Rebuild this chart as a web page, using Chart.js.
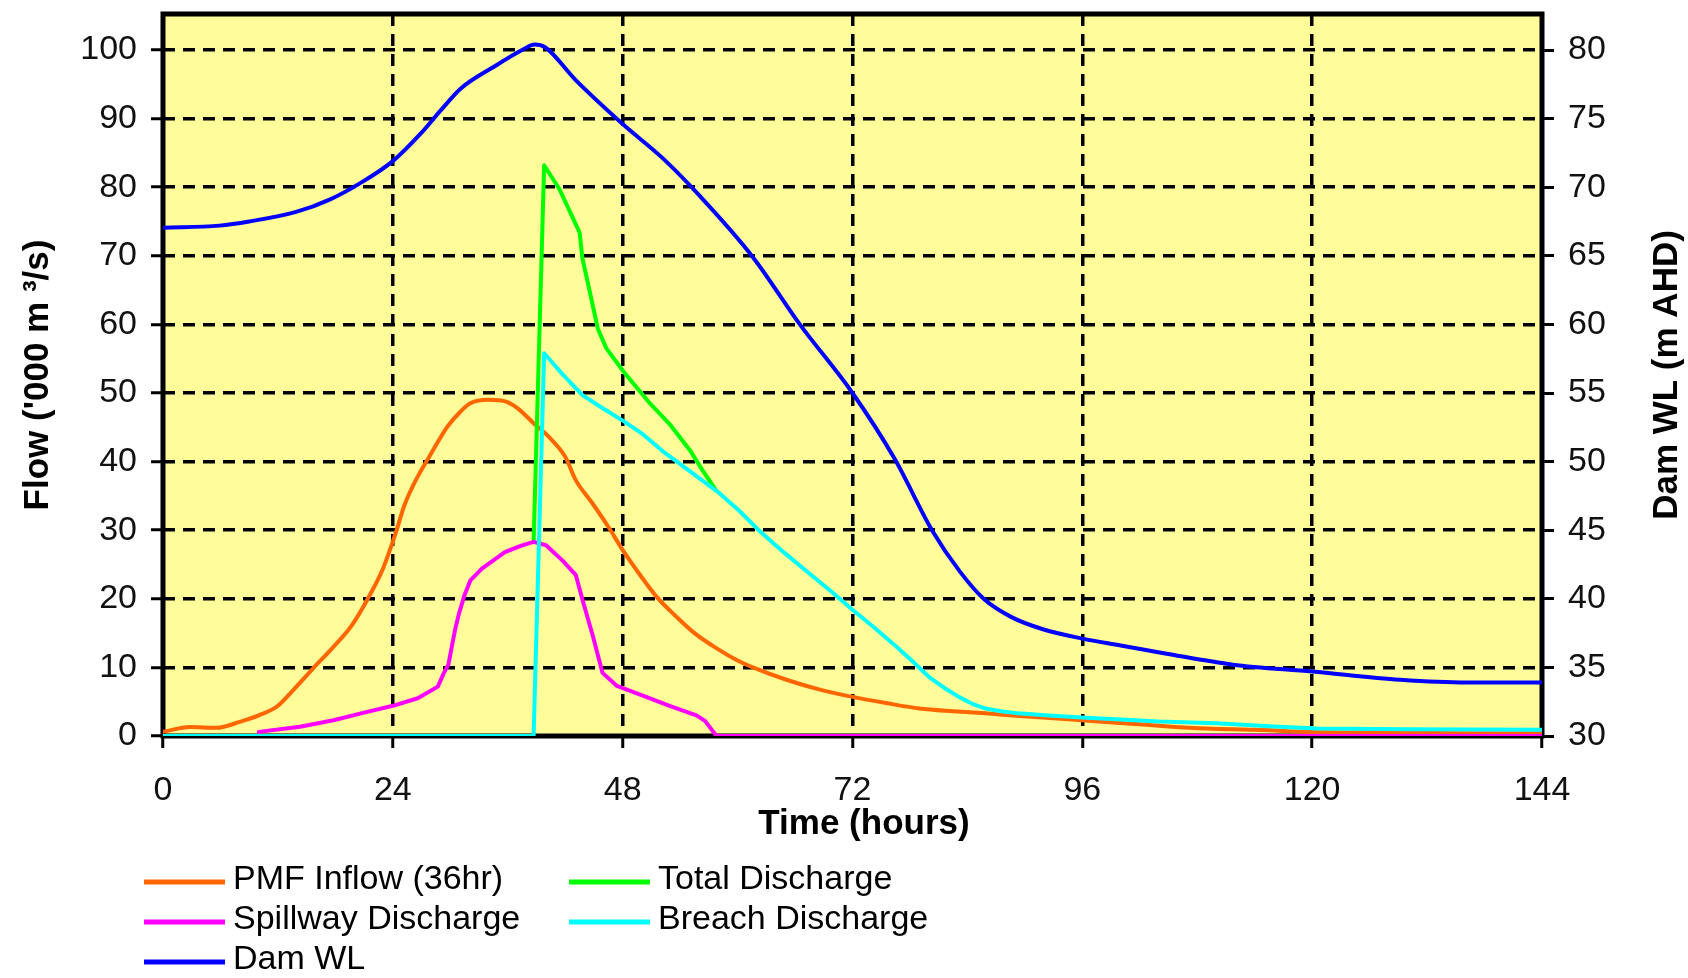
<!DOCTYPE html>
<html>
<head>
<meta charset="utf-8">
<title>Dam break hydrographs</title>
<script src="https://cdn.jsdelivr.net/npm/chart.js@4.4.1/dist/chart.umd.min.js"></script>
<style>
  html, body { margin: 0; padding: 0; background: #fff; }
  canvas { display: block; }
</style>
</head>
<body>
<canvas id="myChart" width="1688" height="978"></canvas>
<script>
// hours / values
const pmfHours = [0, 2.8, 5.6, 8.1, 10, 11.9, 13.6, 15.7, 17.8, 19.6, 21.3, 23, 24.3, 25.2, 26.4, 27.8, 29.7, 31, 32.1, 34, 35.9, 37, 38.7, 40.3, 42, 43.1, 44.8, 46.5, 48.1, 49.8, 51.6, 53.6, 55.5, 57.9, 60, 61.6, 65.1, 68.5, 72, 75.5, 79, 82.5, 85.9, 89.5, 93, 97, 101, 105, 109, 114, 120, 128, 136, 144];
const pmfFlow = [0.6, 1.3, 1.2, 2.1, 3.0, 4.3, 6.7, 9.9, 13.0, 15.9, 19.8, 24.5, 29.6, 33.6, 37.3, 40.7, 45.1, 47.2, 48.5, 49.0, 48.7, 47.8, 45.6, 43.6, 40.7, 37.3, 34.0, 30.5, 26.9, 23.5, 20.2, 17.4, 15.0, 12.7, 11.0, 10.0, 8.2, 6.8, 5.7, 4.8, 4.0, 3.6, 3.3, 2.9, 2.6, 2.2, 1.8, 1.4, 1.1, 0.9, 0.6, 0.5, 0.4, 0.4];

const totalHours = [38.7, 39.8, 41.4, 43.0, 43.5, 43.8, 44.5, 45.4, 46.3, 48.1, 50.9, 53, 55.1, 56.4, 57.7];
const totalFlow = [28.3, 83.2, 79.7, 74.9, 73.4, 69.6, 65.2, 59.4, 56.5, 53.1, 48.4, 45.3, 41.5, 38.6, 35.9];

const spillHours = [10, 14.3, 17.8, 21, 24, 26.6, 28.7, 29.3, 29.8, 30.5, 30.9, 31.5, 32.1, 33.3, 35.7, 37.5, 38.7, 40, 41.7, 43.1, 43.8, 44.9, 45.9, 47.4, 50.1, 52.9, 55.7, 56.6, 57.8, 144];
const spillFlow = [0.6, 1.35, 2.3, 3.4, 4.4, 5.5, 7.2, 9.1, 10.4, 15.5, 17.8, 20.6, 22.7, 24.4, 26.8, 27.8, 28.3, 27.8, 25.6, 23.5, 19.9, 14.5, 9.2, 7.3, 5.9, 4.4, 3.0, 2.2, 0, 0];

const breachHours = [0, 38.7, 39.8, 41.8, 43.8, 46, 48.1, 50.1, 52.2, 55, 58.1, 60.2, 62.2, 64.8, 67.5, 70, 72, 74.2, 76.2, 78.1, 80, 81.6, 83.1, 84.5, 85.9, 87.5, 89.3, 92.5, 96, 100, 104, 110, 116, 120.5, 130, 144];
const breachFlow = [0, 0, 55.8, 52.6, 49.7, 47.7, 45.9, 44.0, 41.5, 38.6, 35.4, 32.8, 30.0, 26.8, 23.7, 20.8, 18.4, 15.9, 13.5, 11.1, 8.6, 7.0, 5.7, 4.7, 4.0, 3.6, 3.3, 3.0, 2.7, 2.4, 2.1, 1.85, 1.4, 1.1, 1.0, 0.9];

const levelHours = [0, 5.9, 9, 13.9, 17.4, 20.6, 24, 26.9, 29, 31.1, 34.6, 37.5, 38.8, 39.9, 43.1, 48, 52.2, 56, 61.6, 66.5, 72, 76.4, 80.3, 83.2, 85.7, 88.5, 91.8, 96, 100, 104.8, 111.7, 120, 129.2, 136.2, 144];
const damLevel = [67.05, 67.2, 67.5, 68.2, 69.1, 70.3, 71.9, 73.9, 75.6, 77.2, 78.8, 80.0, 80.4, 80.2, 77.8, 74.6, 72.1, 69.4, 64.9, 60.0, 55.0, 50.2, 45.0, 42.0, 40.0, 38.7, 37.8, 37.1, 36.6, 36.0, 35.2, 34.7, 34.1, 33.9, 33.9];

const timeTicks = [0, 24, 48, 72, 96, 120, 144];
const flowTicks = [0, 10, 20, 30, 40, 50, 60, 70, 80, 90, 100];
const levelTicks = [30, 35, 40, 45, 50, 55, 60, 65, 70, 75, 80];

const seriesNames = ['PMF Inflow (36hr)', 'Total Discharge', 'Spillway Discharge', 'Breach Discharge', 'Dam WL'];
const seriesColors = ['#FF6600', '#00FF00', '#FF00FF', '#00FFFF', '#0000FF'];

const FONT = "'Liberation Sans', Arial, sans-serif";
Chart.defaults.font.family = FONT;

function pts(xs, ys) {
  return xs.map((x, i) => ({ x: x, y: ys[i] }));
}

// yellow plot area, heavy frame, hand placed legend + titles (Excel look)
const excelFrame = {
  id: 'excelFrame',
  beforeDraw(chart) {
    const { ctx, chartArea: a } = chart;
    ctx.save();
    ctx.fillStyle = '#FFFC99';
    ctx.fillRect(a.left, a.top, a.right - a.left, a.bottom - a.top);
    ctx.restore();
  },
  beforeDatasetsDraw(chart) {
    const { ctx, chartArea: a } = chart;
    ctx.save();
    ctx.strokeStyle = '#000';
    ctx.lineWidth = 5;
    ctx.strokeRect(a.left, a.top, a.right - a.left, a.bottom - a.top);
    ctx.restore();
  },
  afterDraw(chart) {
    const { ctx, chartArea: a } = chart;
    ctx.save();
    ctx.fillStyle = '#000';
    ctx.textBaseline = 'middle';
    ctx.textAlign = 'center';
    ctx.font = 'bold 35px ' + FONT;
    ctx.fillText('Time (hours)', 864, 824);

    ctx.translate(1667, (a.top + a.bottom) / 2);
    ctx.rotate(-Math.PI / 2);
    ctx.fillText('Dam WL (m AHD)', 0, 0);
    ctx.restore();

    // legend, two columns filled row by row
    const cols = [144, 569];
    const rows = [882, 922, 962];
    ctx.save();
    ctx.font = '34px ' + FONT;
    ctx.textBaseline = 'middle';
    ctx.textAlign = 'left';
    chart.data.datasets.forEach((ds, i) => {
      const x = cols[i % 2];
      const y = rows[Math.floor(i / 2)];
      ctx.strokeStyle = ds.borderColor;
      ctx.lineWidth = 5;
      ctx.beginPath();
      ctx.moveTo(x, y);
      ctx.lineTo(x + 81, y);
      ctx.stroke();
      ctx.fillStyle = '#000';
      ctx.fillText(ds.label, x + 89, y - 2);
    });
    ctx.restore();
  }
};

const gridStyle = {
  color: '#000',
  lineWidth: 3.5,
  drawTicks: true,
  tickLength: 12,
  tickWidth: 3,
  tickColor: '#000'
};
const tickFont = { size: 34 };

const ctx = document.getElementById('myChart').getContext('2d');
const chart = new Chart(ctx, {
  type: 'line',
  data: {
    datasets: [
      { label: seriesNames[0], data: pts(pmfHours, pmfFlow), borderColor: seriesColors[0], yAxisID: 'y', order: 4, cubicInterpolationMode: 'monotone' },
      { label: seriesNames[1], data: pts(totalHours, totalFlow), borderColor: seriesColors[1], yAxisID: 'y', order: 3 },
      { label: seriesNames[2], data: pts(spillHours, spillFlow), borderColor: seriesColors[2], yAxisID: 'y', order: 2 },
      { label: seriesNames[3], data: pts(breachHours, breachFlow), borderColor: seriesColors[3], yAxisID: 'y', order: 1 },
      { label: seriesNames[4], data: pts(levelHours, damLevel), borderColor: seriesColors[4], yAxisID: 'y2', order: 0, cubicInterpolationMode: 'monotone' }
    ]
  },
  options: {
    responsive: false,
    animation: false,
    devicePixelRatio: 1,
    layout: { autoPadding: false, padding: { top: 14, left: 0, right: 0, bottom: 132 } },
    elements: {
      point: { radius: 0 },
      line: { borderWidth: 4, tension: 0, fill: false, borderCapStyle: 'round', borderJoinStyle: 'round' }
    },
    plugins: { legend: { display: false }, tooltip: { enabled: false } },
    scales: {
      x: {
        type: 'linear',
        min: 0,
        max: 144,
        afterBuildTicks: s => { s.ticks = timeTicks.map(v => ({ value: v })); },
        afterFit: s => { s.height = 110; s.paddingLeft = 0; s.paddingRight = 0; },
        grid: gridStyle,
        border: { display: false, dash: [12, 8] },
        ticks: { color: '#111', font: tickFont, padding: 22, maxRotation: 0, autoSkip: false }
      },
      y: {
        position: 'left',
        min: 0,
        max: 105.25,
        afterBuildTicks: s => { s.ticks = flowTicks.map(v => ({ value: v })); },
        afterFit: s => { s.width = 163; s.paddingTop = 0; s.paddingBottom = 0; },
        grid: gridStyle,
        border: { display: false, dash: [12, 8] },
        ticks: { color: '#111', font: tickFont, padding: 14 },
        title: {
          display: true,
          text: "Flow ('000 m \u00B3/s)",
          color: '#000',
          font: { size: 35, weight: 'bold' },
          padding: { top: 17, bottom: 0 }
        }
      },
      y2: {
        position: 'right',
        min: 30,
        max: 82.625,
        afterBuildTicks: s => { s.ticks = levelTicks.map(v => ({ value: v })); },
        afterFit: s => { s.width = 146; s.paddingTop = 0; s.paddingBottom = 0; },
        grid: { drawOnChartArea: false, color: '#000', lineWidth: 3, tickLength: 12, tickColor: '#000' },
        border: { display: false },
        ticks: { color: '#111', font: tickFont, padding: 14 }
      }
    }
  },
  plugins: [excelFrame]
});
</script>
</body>
</html>
